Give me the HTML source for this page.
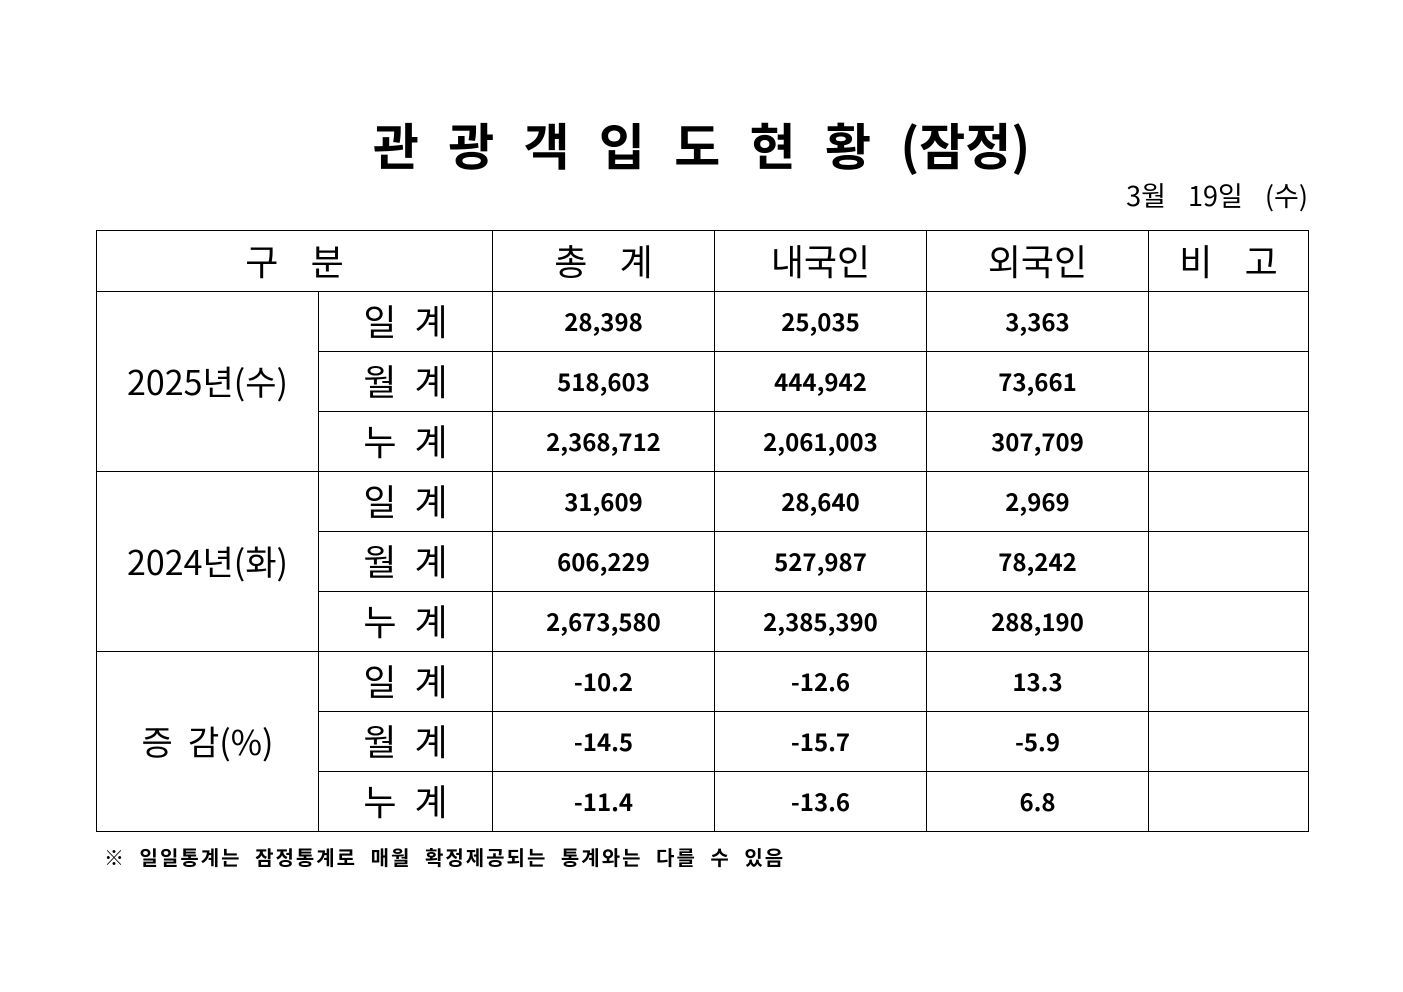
<!DOCTYPE html>
<html><head><meta charset="utf-8"><style>
body{margin:0;background:#fff;width:1403px;height:992px;position:relative;font-family:"Liberation Sans","Noto Sans CJK KR",sans-serif;color:#000}
.t{position:absolute;left:0;width:1403px;top:112px;text-align:center;font-size:50px;font-weight:bold;letter-spacing:0;word-spacing:18px;line-height:64px;font-family:"Noto Sans CJK KR",sans-serif}
.d{position:absolute;right:95px;top:176px;font-size:27px;line-height:38px;word-spacing:16px;font-family:"Noto Sans CJK KR",sans-serif}
table{position:absolute;left:96px;top:230px;border-collapse:collapse;font-family:"Noto Sans CJK KR",sans-serif}
td{border:1px solid #000;padding:0 0 3px 0;text-align:center;height:56px}
.h td{height:57px;font-size:36px}
.l{font-size:36px;letter-spacing:18px;padding-left:18px}
.n{font-size:24px;font-weight:bold}
.y{font-size:34px}
.note{position:absolute;left:104px;top:842px;font-size:20px;font-weight:bold;letter-spacing:2px;word-spacing:7px;font-family:"Noto Sans CJK KR",sans-serif}
</style></head><body>
<div class="t">관 광 객 입 도 현 황 (잠정)</div>
<div class="d">3월 19일 (수)</div>
<table>
<colgroup><col style="width:222px"><col style="width:174px"><col style="width:222px"><col style="width:212px"><col style="width:222px"><col style="width:160px"></colgroup>
<tr class="h"><td colspan="2">구&nbsp;&nbsp;&nbsp;&nbsp;분</td><td>총&nbsp;&nbsp;&nbsp;&nbsp;계</td><td>내국인</td><td>외국인</td><td>비&nbsp;&nbsp;&nbsp;&nbsp;고</td></tr>
<tr><td rowspan="3" class="y">2025년(수)</td><td class="l">일계</td><td class="n">28,398</td><td class="n">25,035</td><td class="n">3,363</td><td></td></tr>
<tr><td class="l">월계</td><td class="n">518,603</td><td class="n">444,942</td><td class="n">73,661</td><td></td></tr>
<tr><td class="l">누계</td><td class="n">2,368,712</td><td class="n">2,061,003</td><td class="n">307,709</td><td></td></tr>
<tr><td rowspan="3" class="y">2024년(화)</td><td class="l">일계</td><td class="n">31,609</td><td class="n">28,640</td><td class="n">2,969</td><td></td></tr>
<tr><td class="l">월계</td><td class="n">606,229</td><td class="n">527,987</td><td class="n">78,242</td><td></td></tr>
<tr><td class="l">누계</td><td class="n">2,673,580</td><td class="n">2,385,390</td><td class="n">288,190</td><td></td></tr>
<tr><td rowspan="3" class="y">증&nbsp;&nbsp;감(%)</td><td class="l">일계</td><td class="n">-10.2</td><td class="n">-12.6</td><td class="n">13.3</td><td></td></tr>
<tr><td class="l">월계</td><td class="n">-14.5</td><td class="n">-15.7</td><td class="n">-5.9</td><td></td></tr>
<tr><td class="l">누계</td><td class="n">-11.4</td><td class="n">-13.6</td><td class="n">6.8</td><td></td></tr>
</table>
<div class="note">※ 일일통계는 잠정통계로 매월 확정제공되는 통계와는 다를 수 있음</div>
</body></html>
